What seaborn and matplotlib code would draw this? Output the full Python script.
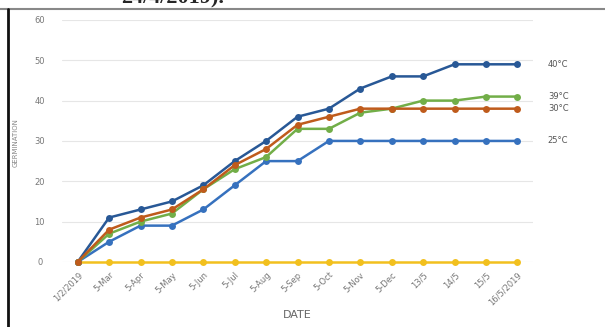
import seaborn as sns
import matplotlib.pyplot as plt
import pandas as pd

OUTPUT_FILE_NAME = "out.png"

dates = ["1/2/2019", "5-Mar", "5-Apr", "5-May", "5-Jun", "5-Jul", "5-Aug", "5-Sep",
         "5-Oct", "5-Nov", "5-Dec", "13/5", "14/5", "15/5", "16/5/2019"]

germ_none = [0, 0, 0, 0, 0, 0, 0, 0, 0, 0, 0, 0, 0, 0, 0]
germ_25 = [0, 5, 9, 9, 13, 19, 25, 25, 30, 30, 30, 30, 30, 30, 30]
germ_40 = [0, 11, 13, 15, 19, 25, 30, 36, 38, 43, 46, 46, 49, 49, 49]
germ_39 = [0, 7, 10, 12, 18, 23, 26, 33, 33, 37, 38, 40, 40, 41, 41]
germ_30 = [0, 8, 11, 13, 18, 24, 28, 34, 36, 38, 38, 38, 38, 38, 38]

series_names = ["none", "25°C", "40°C", "39°C", "30°C"]
series_values = [germ_none, germ_25, germ_40, germ_39, germ_30]
colors = ["#F2C01E", "#3671BE", "#285896", "#72AE48", "#BF5B1C"]


if __name__ == "__main__":
    ### Data Processing ###
    rows = []
    for name, vals in zip(series_names, series_values):
        for i, v in enumerate(vals):
            rows.append({"pos": i, "germination": v, "series": name})
    data = pd.DataFrame(rows)

    ### Chart Creation ###
    sns.set_theme(style="white")
    fig = plt.figure(figsize=(6.05, 3.27), dpi=100)
    ax = fig.add_axes([0.1025, 0.199, 0.7785, 0.74])

    ax.yaxis.grid(True, color="#e6e6e6", linewidth=0.8)
    ax.set_axisbelow(True)

    sns.lineplot(data=data, x="pos", y="germination", hue="series",
                 hue_order=series_names, palette=colors, marker="o",
                 markersize=5, markeredgewidth=0, linewidth=1.8,
                 legend=False, ax=ax, clip_on=False)

    ax.set_xlim(-0.5, len(dates) - 0.5)
    ax.set_ylim(0, 60)
    ax.set_yticks(range(0, 61, 10))
    ax.set_xticks(range(len(dates)))
    ax.set_xticklabels(dates, rotation=45, ha="right", rotation_mode="anchor")
    ax.tick_params(axis="x", labelsize=6, colors="#777777", length=0, pad=6)
    ax.tick_params(axis="y", labelsize=6, colors="#777777", length=0, pad=16)
    for lbl in ax.get_yticklabels():
        lbl.set_ha("center")
    for side in ["top", "right", "bottom", "left"]:
        ax.spines[side].set_visible(False)

    ax.set_xlabel("DATE", fontsize=8, color="#666666", labelpad=2)
    ax.set_ylabel("")
    fig.text(0.026, 0.565, "GERMINATION", rotation=90, fontsize=5,
             color="#888888", ha="center", va="center")

    # series labels at the right end
    for name, vals, col in zip(series_names, series_values, colors):
        if name == "none":
            continue
        ax.annotate(name, xy=(len(dates) - 1, vals[-1]), xytext=(22, 0),
                    textcoords="offset points", fontsize=6, color="#555555",
                    va="center", ha="left")

    # page elements around the screenshot
    fig.add_artist(plt.Line2D([0, 1], [0.972, 0.972], color="#888888", linewidth=1.5))
    fig.add_artist(plt.Line2D([0.013, 0.013], [0, 0.972], color="#111111", linewidth=2))
    fig.text(0.2, 0.99, "24/4/2019).", fontsize=16, fontweight="bold",
             family="Liberation Serif", ha="left", va="baseline")

    plt.savefig(OUTPUT_FILE_NAME, dpi=100)
